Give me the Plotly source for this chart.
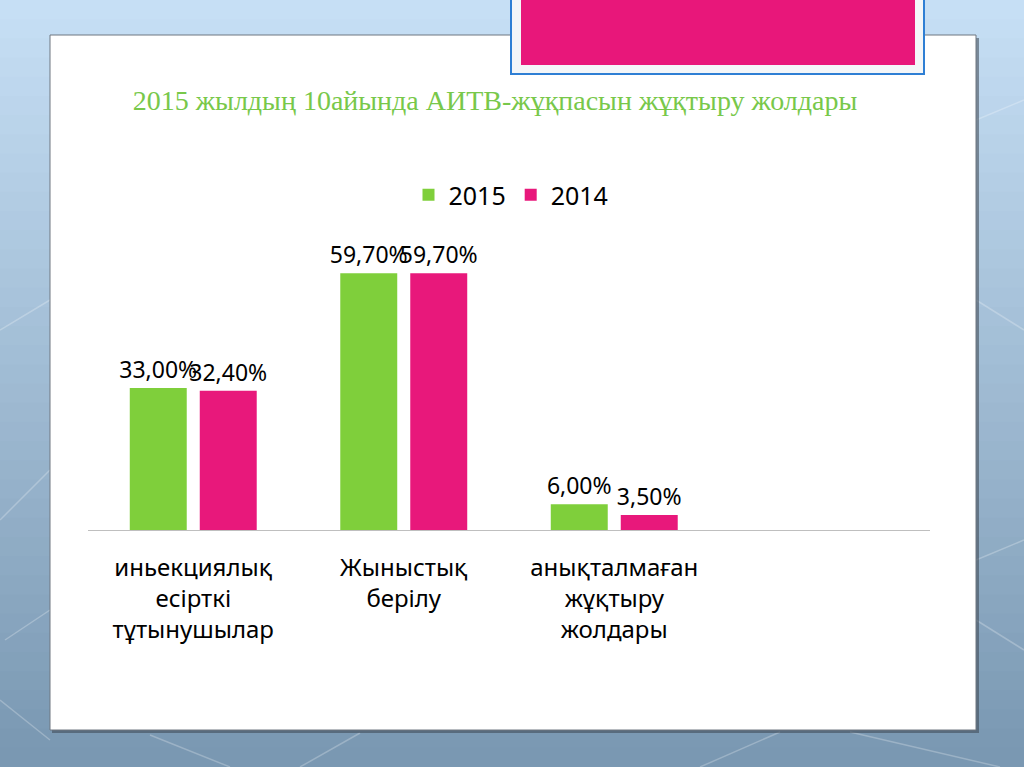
import plotly.graph_objects as go

# ---- data ----
categories = [
    "иньекциялық<br>есірткі<br>тұтынушылар",
    "Жыныстық<br>берілу",
    "анықталмаған<br>жұқтыру<br>жолдары",
    " ",
]
series_names = ["2015", "2014"]
values_2015 = [33.00, 59.70, 6.00, None]
values_2014 = [32.40, 59.70, 3.50, None]
title_text = "2015 жылдың 10айында АИТВ-жұқпасын жұқтыру жолдары"

GREEN = "#7fcf3b"
PINK = "#e8187b"

W, H = 1024, 767
L, R, T, B = 88, 930, 229, 530  # plot area in pixels


def px(x):
    return (x - L) / (R - L)


def py(y):
    return (B - y) / (B - T)


def fmt(v):
    return "" if v is None else f"{v:.2f}".replace(".", ",") + "%"


fig = go.Figure()
for name, vals, col in [(series_names[0], values_2015, GREEN),
                        (series_names[1], values_2014, PINK)]:
    fig.add_trace(go.Bar(
        name=name, x=categories, y=vals, marker_color=col,
        marker_line_width=0,
        text=[fmt(v) for v in vals], textposition="outside",
        textfont=dict(family="Noto Sans", size=23, color="#000000"),
        constraintext="none", cliponaxis=False, hoverinfo="skip",
    ))

shapes = []
# slide background gradient
top_c = (198, 223, 245)
bot_c = (122, 152, 178)
n = 40
for i in range(n):
    t = i / (n - 1)
    c = tuple(int(top_c[k] + (bot_c[k] - top_c[k]) * t) for k in range(3))
    y0 = H * i / n
    y1 = H * (i + 1) / n + 1
    shapes.append(dict(type="rect", xref="paper", yref="paper", layer="below",
                       x0=px(0), x1=px(W), y0=py(y0), y1=py(y1),
                       fillcolor="rgb(%d,%d,%d)" % c, line_width=0))
# faint pattern lines
for (x0, y0, x1, y1) in [(0, 330, 50, 300), (0, 520, 50, 470), (5, 640, 50, 610),
                         (0, 700, 50, 740), (976, 120, 1024, 100), (976, 300, 1024, 330),
                         (976, 560, 1024, 540), (976, 620, 1024, 650), (150, 735, 230, 767),
                         (700, 767, 780, 732), (850, 732, 1000, 767), (300, 767, 360, 733)]:
    shapes.append(dict(type="line", xref="paper", yref="paper", layer="below",
                       x0=px(x0), x1=px(x1), y0=py(y0), y1=py(y1),
                       line=dict(color="rgba(255,255,255,0.25)", width=1.5)))
# white chart box with shadow
shapes.append(dict(type="rect", xref="paper", yref="paper", layer="below",
                   x0=px(52), x1=px(979), y0=py(38), y1=py(733),
                   fillcolor="rgba(60,70,80,0.55)", line_width=0))
shapes.append(dict(type="rect", xref="paper", yref="paper", layer="below",
                   x0=px(50), x1=px(976), y0=py(35), y1=py(730),
                   fillcolor="#ffffff", line=dict(color="#6f7780", width=1)))
# pink decorative box
shapes.append(dict(type="rect", xref="paper", yref="paper", layer="below",
                   x0=px(511), x1=px(924), y0=py(-5), y1=py(74),
                   fillcolor="#f4f6f8", line=dict(color="#2f7fd4", width=2)))
shapes.append(dict(type="rect", xref="paper", yref="paper", layer="below",
                   x0=px(521), x1=px(915), y0=py(-5), y1=py(65),
                   fillcolor="#e8177a", line_width=0))

fig.update_layout(
    width=W, height=H, autosize=False,
    margin=dict(l=L, r=W - R, t=T, b=H - B, pad=0),
    paper_bgcolor="rgb(160,186,210)", plot_bgcolor="rgba(0,0,0,0)",
    barmode="group", bargap=0.335, bargroupgap=0.186,
    shapes=shapes,
    title=dict(text=title_text, x=495 / W, y=1 - 100 / H, xanchor="center",
               yanchor="middle", xref="container",
               font=dict(family="Liberation Serif", size=28, color="#78c84a")),
    legend=dict(orientation="h", x=px(511), y=py(195), xanchor="center",
                yanchor="middle", font=dict(family="Noto Sans", size=25, color="#000000"),
                bgcolor="rgba(0,0,0,0)", itemwidth=30, traceorder="normal"),
    xaxis=dict(showline=True, linecolor="#bfbfbf", linewidth=1, showgrid=False,
               ticks="", ticklabelstandoff=16,
               tickfont=dict(family="Noto Sans", size=24, color="#000000"),
               zeroline=False, fixedrange=True),
    yaxis=dict(range=[0, 70], visible=False, showgrid=False, zeroline=False,
               fixedrange=True),
    showlegend=True,
)

fig.write_html("out.html", config={"displayModeBar": False},
               post_script="document.body.style.margin='0';document.body.style.overflow='hidden';")
